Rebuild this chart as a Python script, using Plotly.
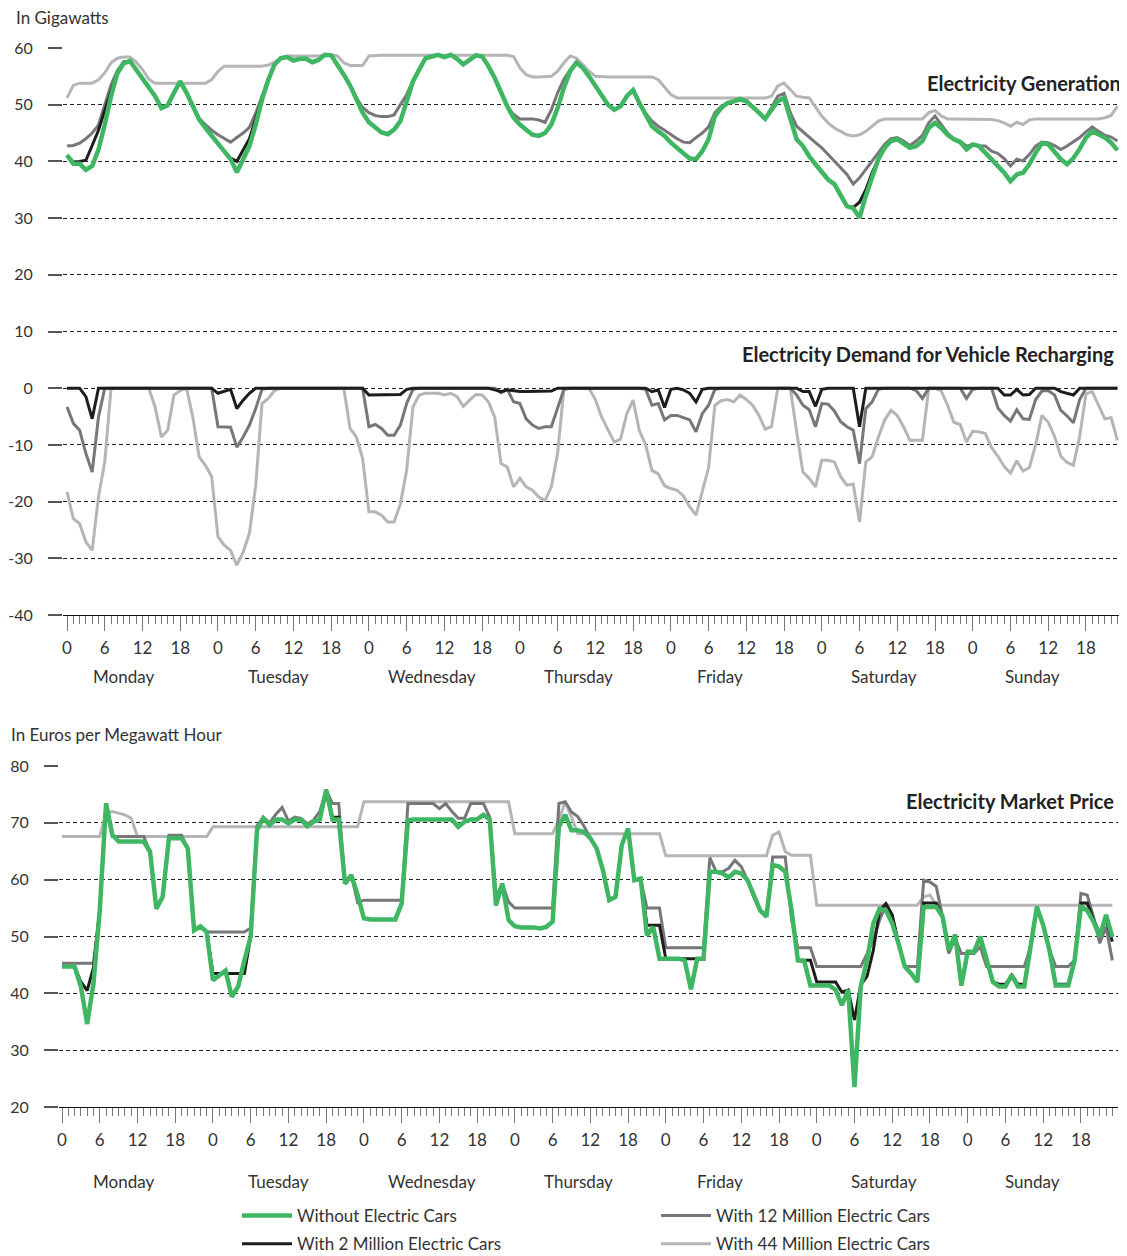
import plotly.graph_objects as go

HOURS = list(range(168))
DAYS = ["Monday", "Tuesday", "Wednesday", "Thursday", "Friday", "Saturday", "Sunday"]
HOUR_TICKS = [d * 24 + h for d in range(7) for h in (0, 6, 12, 18)]
HOUR_TEXT = ["0", "6", "12", "18"] * 7
SERIES = ["Without Electric Cars", "With 2 Million Electric Cars",
          "With 12 Million Electric Cars", "With 44 Million Electric Cars"]

# ---------------- Electricity generation (GW) ----------------
gen_without = [
    41.1, 39.6, 39.6, 38.5, 39.2, 42.1, 46.5, 51.5, 55.5, 57.3, 57.7, 56.2,
    54.7, 53.1, 51.5, 49.4, 49.9, 52.1, 54.1, 52.1, 49.7, 47.4, 45.9, 44.5,
    43.0, 41.8, 40.4, 38.1, 40.4, 42.7, 46.5, 50.9, 54.4, 57.1, 58.2, 58.4,
    57.8, 58.1, 58.1, 57.5, 57.9, 58.8, 58.7, 57.1, 55.3, 53.4, 51.2, 48.6,
    46.9, 45.9, 45.1, 44.8, 45.6, 47.1, 50.9, 54.1, 56.2, 58.2, 58.5, 58.8,
    58.4, 58.8, 58.1, 57.1, 57.9, 58.7, 58.5, 56.8, 54.7, 52.1, 49.7, 47.7,
    46.5, 45.6, 44.7, 44.5, 45.0, 46.5, 49.4, 53.0, 55.9, 57.4, 56.5, 55.0,
    53.3, 51.5, 50.0, 49.1, 49.7, 51.5, 52.6, 50.3, 48.3, 46.2, 45.3, 44.5,
    43.3, 42.4, 41.5, 40.5, 40.4, 41.8, 43.9, 48.0, 49.4, 50.3, 50.6, 51.0,
    50.6, 49.7, 48.6, 47.5, 49.1, 50.6, 51.2, 47.4, 43.9, 42.7, 40.9, 39.5,
    38.0, 36.8, 36.0, 33.9, 32.1, 31.7, 30.1, 33.9, 37.4, 40.4, 42.4, 43.6,
    43.9, 43.2, 42.4, 42.7, 43.6, 45.9, 46.8, 45.9, 44.7, 43.9, 43.4, 42.1,
    43.0, 42.7, 41.5, 40.4, 39.2, 38.0, 36.5, 37.7, 38.0, 39.5, 41.5, 43.2,
    43.0, 41.8, 40.4, 39.5, 40.6, 42.2, 44.2, 45.3, 44.7, 44.2, 43.3, 42.0,
]
gen_2m = [
    41.1, 39.9, 40.0, 40.2, 42.8, 45.5, 49.0, 52.3, 55.6, 57.3, 57.7, 56.2,
    54.7, 53.1, 51.5, 49.4, 49.9, 52.1, 54.1, 52.1, 49.7, 47.4, 45.9, 44.5,
    43.0, 41.8, 40.6, 40.0, 42.0, 44.0, 47.5, 51.2, 54.4, 57.1, 58.2, 58.4,
    57.8, 58.1, 58.1, 57.5, 57.9, 58.8, 58.7, 57.1, 55.3, 53.4, 51.2, 48.6,
    46.9, 45.9, 45.1, 44.8, 45.6, 47.1, 50.9, 54.1, 56.2, 58.2, 58.5, 58.8,
    58.4, 58.8, 58.1, 57.1, 57.9, 58.7, 58.5, 56.8, 54.7, 52.1, 49.7, 47.7,
    46.5, 45.6, 44.7, 44.5, 45.0, 46.5, 49.4, 53.0, 55.9, 57.4, 56.5, 55.0,
    53.3, 51.5, 50.0, 49.1, 49.7, 51.5, 52.6, 50.3, 48.3, 46.2, 45.3, 44.5,
    43.3, 42.4, 41.5, 40.5, 40.4, 41.8, 43.9, 48.0, 49.4, 50.3, 50.6, 51.0,
    50.6, 49.7, 48.6, 47.5, 49.1, 50.6, 51.2, 47.4, 43.9, 42.7, 40.9, 39.5,
    38.0, 36.8, 36.0, 33.9, 32.1, 31.9, 32.8, 35.0, 38.0, 40.4, 42.4, 43.6,
    43.9, 43.2, 42.4, 42.7, 43.6, 45.9, 46.8, 45.9, 44.7, 43.9, 43.4, 42.1,
    43.0, 42.7, 41.5, 40.4, 39.2, 38.0, 36.5, 37.7, 38.0, 39.5, 41.5, 43.2,
    43.0, 41.8, 40.4, 39.5, 40.6, 42.2, 44.2, 45.3, 44.7, 44.2, 43.3, 42.0,
]
gen_12m = [
    42.7, 42.8, 43.2, 44.0, 45.0, 46.4, 50.0, 53.5, 56.0, 57.6, 57.7, 56.2,
    54.7, 53.1, 51.5, 49.4, 49.9, 52.1, 54.1, 52.1, 49.7, 47.6, 46.5, 45.5,
    44.7, 44.0, 43.4, 44.2, 45.0, 46.0, 48.5, 51.5, 54.5, 57.1, 58.2, 58.4,
    57.8, 58.1, 58.1, 57.5, 57.9, 58.8, 58.7, 57.1, 55.3, 53.4, 51.2, 49.5,
    48.6, 48.1, 47.9, 47.9, 48.2, 50.0, 51.8, 54.3, 56.2, 58.2, 58.5, 58.8,
    58.4, 58.8, 58.1, 57.1, 57.9, 58.7, 58.5, 56.8, 54.7, 52.1, 49.7, 48.3,
    47.5, 47.5, 47.5, 47.3, 46.9, 49.1, 52.1, 54.5, 56.2, 57.6, 56.5, 55.0,
    53.3, 51.5, 50.0, 49.1, 49.7, 51.5, 52.6, 50.3, 48.5, 47.1, 46.2, 45.5,
    44.7, 44.0, 43.4, 43.3, 44.2, 45.0, 46.1, 48.6, 49.7, 50.3, 50.6, 51.0,
    50.6, 49.7, 48.6, 47.6, 49.5, 51.5, 52.0, 48.6, 46.2, 45.2, 44.2, 43.3,
    42.4, 41.2, 40.1, 38.9, 37.7, 36.0, 37.1, 38.6, 40.1, 41.5, 43.0, 44.0,
    44.2, 43.6, 42.8, 43.6, 44.6, 46.8, 48.0, 46.5, 45.0, 44.0, 43.6, 42.7,
    43.0, 42.7, 42.7, 41.8, 41.4, 40.5, 39.2, 40.4, 40.1, 41.2, 42.7, 43.4,
    43.3, 42.8, 42.1, 42.7, 43.4, 44.2, 45.2, 46.1, 45.3, 44.6, 44.3, 43.6,
]
gen_44m = [
    51.2, 53.4, 53.8, 53.8, 53.8, 54.4, 55.6, 57.4, 58.2, 58.4, 58.4, 57.5,
    56.2, 54.5, 53.8, 53.8, 53.8, 53.8, 53.8, 53.8, 53.8, 53.8, 53.8, 54.4,
    55.9, 56.8, 56.8, 56.8, 56.8, 56.8, 56.8, 56.8, 57.0, 57.5, 58.3, 58.6,
    58.6, 58.6, 58.6, 58.6, 58.6, 58.8, 58.8, 58.6, 57.4, 56.9, 56.9, 56.9,
    58.6, 58.7, 58.7, 58.7, 58.7, 58.7, 58.7, 58.7, 58.7, 58.7, 58.7, 58.7,
    58.7, 58.7, 58.7, 58.7, 58.7, 58.7, 58.7, 58.7, 58.7, 58.7, 58.7, 58.5,
    56.5, 55.3, 54.9, 54.9, 54.9, 55.0, 55.9, 57.4, 58.6, 58.2, 57.1, 55.9,
    55.0, 54.9, 54.9, 54.9, 54.9, 54.9, 54.9, 54.9, 54.9, 54.9, 54.4, 53.1,
    51.8, 51.2, 51.2, 51.2, 51.2, 51.2, 51.2, 51.2, 51.2, 51.2, 51.2, 51.2,
    51.2, 51.2, 51.2, 51.2, 51.5, 53.3, 53.8, 52.7, 51.5, 51.3, 51.2, 49.6,
    48.0, 46.8, 45.9, 45.3, 44.7, 44.5, 44.7, 45.3, 46.2, 47.1, 47.5, 47.5,
    47.5, 47.5, 47.5, 47.5, 47.5, 48.6, 49.0, 48.0, 47.5, 47.5, 47.5, 47.5,
    47.5, 47.5, 47.5, 47.4, 47.2, 46.8, 46.2, 46.9, 46.5, 47.3, 47.5, 47.5,
    47.5, 47.5, 47.5, 47.5, 47.5, 47.5, 47.5, 47.5, 47.5, 47.7, 48.1, 49.7,
]

# ---------------- Demand for vehicle recharging (GW, negative) ----------------
dem_2m = [
    0, 0, 0, -1.5, -5.4, 0, 0, 0, 0, 0, 0, 0,
    0, 0, 0, 0, 0, 0, 0, 0, 0, 0, 0, 0,
    -0.9, -0.6, -0.2, -3.6, -2.1, -0.9, 0, 0, 0, 0, 0, 0,
    0, 0, 0, 0, 0, 0, 0, 0, 0, 0, 0, 0,
    -1.2, -1.2, -1.2, -1.2, -1.2, -1.1, -0.2, 0, 0, 0, 0, 0,
    0, 0, 0, 0, 0, 0, 0, 0, -0.3, -0.6, -0.3, -0.5,
    -0.6, -0.6, -0.6, -0.6, -0.6, -0.5, 0, 0, 0, 0, 0, 0,
    0, 0, 0, 0, 0, 0, 0, 0, 0, -0.6, -0.3, -3.4,
    -0.2, 0, -0.3, -0.9, -2.4, -0.2, 0, 0, 0, 0, 0, 0,
    0, 0, 0, 0, 0, 0, 0, 0, 0, -0.6, -0.6, -3.2,
    -0.2, 0, 0, 0, 0, 0, -6.8, 0, 0, 0, 0, 0,
    0, 0, 0, 0, 0, 0, 0, 0, 0, 0, 0, 0,
    0, 0, 0, 0, 0, -1.2, -1.2, -0.2, -1.2, -1.1, 0, 0,
    0, 0, -0.6, -0.9, -1.2, 0, 0, 0, 0, 0, 0, 0,
]
dem_12m = [
    -3.3, -6.2, -7.4, -11.5, -14.8, -5.1, 0, 0, 0, 0, 0, 0,
    0, 0, 0, 0, 0, 0, 0, 0, 0, 0, 0, 0,
    -6.8, -6.9, -6.9, -10.4, -8.6, -6.5, -3.6, -0.2, 0, 0, 0, 0,
    0, 0, 0, 0, 0, 0, 0, 0, 0, 0, 0, 0,
    -6.8, -6.4, -7.1, -8.3, -8.3, -6.5, -2.7, -0.2, 0, 0, 0, 0,
    0, 0, 0, 0, 0, 0, 0, 0, 0, -0.8, -0.2, -2.4,
    -2.7, -5.4, -6.5, -7.1, -6.8, -6.8, -3.3, -0.2, 0, 0, 0, 0,
    0, 0, 0, 0, 0, 0, 0, 0, -0.2, -3.0, -2.7, -5.6,
    -4.8, -4.8, -5.2, -5.6, -7.7, -4.5, -3.0, -0.2, 0, 0, 0, 0,
    0, 0, 0, 0, 0, 0, 0, 0, -1.2, -3.0, -3.8, -6.8,
    -2.7, -2.8, -4.0, -5.9, -6.8, -7.4, -13.3, -3.6, -2.4, -0.2, 0, 0,
    0, 0, 0, -0.4, -1.8, 0, 0, 0, 0, 0, 0, -1.8,
    -0.2, 0, 0, 0, -3.5, -4.8, -5.8, -3.8, -5.4, -5.5, -2.0, -0.5,
    -0.4, -1.2, -3.9, -4.9, -6.1, -2.0, 0, 0, 0, 0, 0, 0,
]
dem_44m = [
    -18.3, -23.0, -23.9, -27.1, -28.6, -19.2, -13.0, 0, 0, 0, 0, 0,
    0, 0, -3.3, -8.6, -7.4, -1.2, -0.4, 0, -5.1, -12.1, -13.6, -15.6,
    -26.2, -27.7, -28.6, -31.2, -28.9, -25.6, -17.1, -2.7, -1.8, -0.4, 0, 0,
    0, 0, 0, 0, 0, 0, 0, 0, 0, -7.1, -8.6, -12.4,
    -21.8, -21.8, -22.4, -23.6, -23.6, -20.4, -14.5, -3.3, -1.2, -0.9, -0.9, -0.9,
    -1.2, -0.9, -1.5, -3.2, -2.1, -1.1, -1.2, -2.4, -5.1, -13.3, -13.9, -17.4,
    -15.9, -17.4, -18.0, -19.2, -19.8, -17.4, -11.5, 0, 0, 0, 0, 0,
    -2.0, -5.1, -7.3, -9.5, -9.0, -4.5, -2.1, -7.5, -10.0, -14.5, -15.1, -17.2,
    -17.7, -18.0, -19.0, -20.9, -22.4, -18.0, -14.0, -3.0, -2.2, -2.0, -2.4, -1.2,
    -2.0, -3.0, -4.8, -7.2, -6.8, 0, 0, 0, -7.7, -14.8, -15.9, -17.4,
    -12.7, -12.7, -13.0, -15.6, -17.1, -16.9, -23.6, -13.0, -12.1, -8.6, -5.6, -3.9,
    -4.8, -6.8, -9.2, -9.2, -9.2, 0, 0, -0.5, -3.0, -6.0, -6.4, -9.5,
    -7.6, -7.7, -8.0, -10.5, -12.0, -13.8, -15.0, -12.8, -14.6, -14.0, -10.0, -4.8,
    -6.0, -8.5, -12.0, -13.1, -13.6, -8.5, -1.0, -0.6, -3.0, -5.4, -5.2, -9.2,
]

# ---------------- Electricity market price (EUR/MWh) ----------------
price_without = [
    44.7, 44.7, 44.7, 41.2, 34.6, 41.7, 54.6, 73.4, 67.9, 66.7, 66.7, 66.7,
    66.7, 66.7, 64.9, 54.9, 57.0, 67.3, 67.3, 67.3, 65.5, 51.1, 51.8, 50.8,
    42.3, 43.2, 44.0, 39.4, 41.2, 45.8, 50.0, 68.7, 70.8, 69.6, 70.6, 70.6,
    69.9, 70.6, 70.6, 69.4, 70.2, 70.6, 75.8, 70.6, 70.6, 59.3, 60.8, 57.3,
    53.2, 53.0, 53.0, 53.0, 53.0, 53.0, 55.8, 70.5, 70.6, 70.6, 70.6, 70.6,
    70.6, 70.6, 70.6, 69.3, 70.2, 70.6, 70.6, 71.4, 70.6, 55.5, 59.3, 52.9,
    51.8, 51.6, 51.6, 51.6, 51.4, 51.7, 52.6, 69.3, 71.4, 68.7, 68.7, 68.4,
    67.3, 65.5, 61.7, 56.4, 57.0, 66.1, 69.0, 59.9, 60.2, 50.2, 51.7, 46.1,
    46.1, 46.1, 46.1, 45.8, 40.7, 46.1, 46.1, 61.4, 61.4, 61.1, 60.4, 61.4,
    61.1, 59.9, 57.0, 54.6, 53.5, 62.6, 62.3, 61.4, 54.6, 45.8, 45.7, 41.4,
    41.4, 41.4, 41.4, 40.6, 37.9, 40.6, 23.5, 41.2, 45.8, 52.3, 54.9, 54.6,
    52.3, 48.8, 44.7, 43.5, 42.0, 55.2, 55.2, 55.2, 53.5, 47.6, 50.3, 41.4,
    47.3, 47.3, 50.0, 45.8, 42.0, 41.2, 41.2, 43.2, 41.2, 41.2, 48.2, 55.2,
    52.0, 47.6, 41.4, 41.4, 41.4, 45.8, 55.2, 54.6, 52.6, 50.0, 53.8, 49.9,
]
price_2m = [
    44.7, 44.7, 44.7, 42.0, 40.5, 44.5, 54.6, 73.4, 67.9, 66.7, 66.7, 66.7,
    66.7, 66.7, 64.9, 54.9, 57.0, 67.3, 67.3, 67.3, 65.5, 51.1, 51.8, 50.8,
    43.5, 43.5, 43.5, 43.5, 43.5, 43.5, 50.0, 68.7, 70.8, 69.6, 70.6, 70.6,
    69.9, 70.6, 70.6, 69.4, 70.2, 70.6, 75.8, 71.0, 71.0, 59.3, 60.8, 57.3,
    53.2, 53.0, 53.0, 53.0, 53.0, 53.0, 55.8, 70.5, 70.6, 70.6, 70.6, 70.6,
    70.6, 70.6, 70.6, 69.3, 70.2, 70.6, 70.6, 71.4, 70.6, 55.5, 59.3, 52.9,
    51.8, 51.6, 51.6, 51.6, 51.4, 51.7, 52.6, 69.3, 71.4, 68.7, 68.7, 68.4,
    67.3, 65.5, 61.7, 56.4, 57.0, 66.1, 69.0, 59.9, 60.2, 52.0, 52.0, 52.0,
    46.1, 46.1, 46.1, 46.0, 46.0, 46.0, 46.1, 61.4, 61.4, 61.1, 60.4, 61.4,
    61.1, 59.9, 57.0, 54.6, 53.5, 62.6, 62.3, 61.4, 54.6, 45.8, 45.8, 45.8,
    42.0, 42.0, 42.0, 42.0, 40.2, 40.6, 35.3, 41.5, 43.0, 47.6, 54.6, 55.8,
    53.8, 48.8, 44.7, 43.5, 42.0, 55.9, 55.9, 55.9, 53.5, 47.6, 50.3, 41.4,
    47.3, 47.3, 50.0, 45.8, 42.0, 41.6, 41.6, 43.2, 41.6, 41.6, 48.2, 55.2,
    52.0, 47.6, 41.6, 41.6, 41.6, 45.8, 55.9, 55.9, 53.0, 50.5, 53.0, 49.1,
]
price_12m = [
    45.3, 45.3, 45.3, 45.3, 45.3, 45.3, 54.6, 73.4, 67.6, 67.6, 67.6, 67.6,
    67.6, 67.6, 64.9, 54.9, 57.0, 67.8, 67.8, 67.8, 65.5, 51.1, 51.8, 50.8,
    50.8, 50.8, 50.8, 50.8, 50.8, 50.8, 51.5, 69.5, 71.0, 70.0, 71.5, 72.7,
    70.3, 71.0, 70.8, 69.8, 70.5, 72.0, 75.8, 73.4, 73.4, 59.3, 60.8, 56.0,
    56.4, 56.4, 56.4, 56.4, 56.4, 56.4, 56.4, 73.4, 73.4, 73.4, 73.4, 73.4,
    72.5, 73.4, 72.0, 70.8, 70.8, 73.4, 73.4, 73.4, 71.0, 57.0, 59.3, 56.1,
    55.0, 55.0, 55.0, 55.0, 55.0, 55.0, 55.0, 73.4, 73.7, 71.9, 71.1, 69.4,
    67.3, 65.5, 61.7, 56.4, 57.0, 66.1, 69.0, 59.9, 60.2, 55.0, 55.0, 55.0,
    48.0, 48.0, 48.0, 48.0, 48.0, 48.0, 48.0, 63.9, 61.4, 61.4, 62.0, 63.4,
    62.3, 59.9, 57.0, 54.6, 53.5, 64.0, 64.0, 64.0, 52.9, 48.0, 48.0, 48.0,
    44.7, 44.7, 44.7, 44.7, 44.7, 44.7, 44.7, 44.7, 47.0, 49.4, 52.9, 55.5,
    53.5, 48.8, 44.7, 44.7, 44.7, 59.9, 59.6, 58.8, 53.5, 47.0, 49.7, 47.0,
    47.0, 47.0, 48.2, 44.7, 44.7, 44.7, 44.7, 44.7, 44.7, 44.7, 48.2, 55.2,
    52.0, 47.6, 44.7, 44.7, 44.7, 45.8, 57.6, 57.3, 53.5, 48.8, 51.7, 45.8,
]
price_44m = [
    67.6, 67.6, 67.6, 67.6, 67.6, 67.6, 67.6, 71.7, 72.0, 71.7, 71.4, 70.8,
    67.6, 67.6, 67.6, 67.6, 67.6, 67.6, 67.6, 67.6, 67.6, 67.6, 67.6, 67.6,
    69.3, 69.3, 69.3, 69.3, 69.3, 69.3, 69.3, 69.3, 69.3, 69.3, 69.3, 69.3,
    69.3, 69.3, 69.3, 69.3, 69.3, 69.3, 69.3, 69.3, 69.3, 69.3, 69.3, 69.3,
    73.7, 73.7, 73.7, 73.7, 73.7, 73.7, 73.7, 73.7, 73.7, 73.7, 73.7, 73.7,
    73.7, 73.7, 73.7, 73.7, 73.7, 73.7, 73.7, 73.7, 73.7, 73.7, 73.7, 73.7,
    68.1, 68.1, 68.1, 68.1, 68.1, 68.1, 68.1, 70.5, 73.7, 71.0, 68.1, 68.1,
    68.1, 68.1, 68.1, 68.1, 68.1, 68.1, 68.1, 68.1, 68.1, 68.1, 68.1, 68.1,
    64.2, 64.2, 64.2, 64.2, 64.2, 64.2, 64.2, 64.2, 64.2, 64.2, 64.2, 64.2,
    64.2, 64.2, 64.2, 64.2, 64.2, 67.8, 68.4, 64.9, 64.3, 64.3, 64.3, 64.3,
    55.5, 55.5, 55.5, 55.5, 55.5, 55.5, 55.5, 55.5, 55.5, 55.5, 55.5, 55.5,
    55.5, 55.5, 55.5, 55.5, 55.5, 57.0, 57.3, 55.5, 55.5, 55.5, 55.5, 55.5,
    55.5, 55.5, 55.5, 55.5, 55.5, 55.5, 55.5, 55.5, 55.5, 55.5, 55.5, 55.5,
    55.5, 55.5, 55.5, 55.5, 55.5, 55.5, 55.5, 55.5, 55.5, 55.5, 55.5, 55.5,
]

for arr in (gen_without, gen_2m, gen_12m, gen_44m, dem_2m, dem_12m, dem_44m,
            price_without, price_2m, price_12m, price_44m):
    assert len(arr) == 168, len(arr)

# ---------------- styling ----------------
# The page body has an 8px default margin, so the figure is drawn at (8, 8).
OFF = 8
W, H = 1127 - OFF, 1256 - OFF
FONT = "Lato, 'Open Sans', sans-serif"
TXT = "#333333"
GREEN = "#3fb762"
BLACK = "#1d1d1b"
DGRAY = "#77777b"
LGRAY = "#b5b5b7"
COLORS = [GREEN, BLACK, DGRAY, LGRAY]
WIDTHS = [4.5, 3, 3, 3]


def px_x(p):
    return (p - OFF) / W


def px_y(p):
    return 1 - (p - OFF) / H


fig = go.Figure()

# draw order: light gray under, green on top
order = [3, 2, 1, 0]
gen = [gen_without, gen_2m, gen_12m, gen_44m]
dem = [None, dem_2m, dem_12m, dem_44m]
price = [price_without, price_2m, price_12m, price_44m]

for i in order:
    fig.add_trace(go.Scatter(x=HOURS, y=gen[i], mode="lines", xaxis="x", yaxis="y",
                             line=dict(color=COLORS[i], width=WIDTHS[i]),
                             showlegend=False, hoverinfo="skip"))
for i in order:
    if dem[i] is None:
        continue
    fig.add_trace(go.Scatter(x=HOURS, y=dem[i], mode="lines", xaxis="x", yaxis="y",
                             line=dict(color=COLORS[i], width=WIDTHS[i]),
                             showlegend=False, hoverinfo="skip"))
for i in order:
    fig.add_trace(go.Scatter(x=HOURS, y=price[i], mode="lines", xaxis="x2", yaxis="y2",
                             name=SERIES[i], legendrank=i + 1,
                             legend="legend" if i in (0, 1) else "legend2",
                             legendgroup=SERIES[i],
                             line=dict(color=COLORS[i], width=WIDTHS[i]),
                             showlegend=True, hoverinfo="skip"))

xtickfont = dict(family=FONT, size=17, color=TXT)
ytickfont = dict(family=FONT, size=16, color=TXT)

xcommon = dict(
    tickmode="array", tickvals=HOUR_TICKS, ticktext=HOUR_TEXT,
    ticks="outside", ticklen=15, tickwidth=1, tickcolor="#777777",
    showline=True, linecolor="#111111", linewidth=1, automargin=False,
    showgrid=False, zeroline=False, tickfont=xtickfont, ticklabelstandoff=3,
    minor=dict(tickmode="linear", tick0=0, dtick=1, ticks="outside", ticklen=8,
               tickwidth=1, tickcolor="#777777", showgrid=False),
)
ycommon = dict(
    ticks="outside", ticklen=14, tickwidth=1.5, tickcolor="#555555", automargin=False,
    showgrid=True, gridcolor="#222222", gridwidth=1, griddash="4px,3px",
    zeroline=False, showline=False, tickfont=ytickfont, ticklabelstandoff=12,
)

fig.update_layout(
    width=W, height=H, margin=dict(l=0, r=0, t=0, b=0, pad=0, autoexpand=False),
    paper_bgcolor="white", plot_bgcolor="white",
    font=dict(family=FONT, color=TXT),
    xaxis=dict(domain=[px_x(63), px_x(1122)], range=[-0.64, 167.73], anchor="y", **xcommon),
    yaxis=dict(domain=[px_y(615), px_y(48)], range=[-40, 60], anchor="x",
               tickvals=[-40, -30, -20, -10, 0, 10, 20, 30, 40, 50, 60],
               ticktext=["-40", "-30", "-20", "-10", "0", "10", "20", "30", "40", "50", "60"],
               **ycommon),
    xaxis2=dict(domain=[px_x(59), px_x(1118)], range=[-0.48, 167.9], anchor="y2", **xcommon),
    yaxis2=dict(domain=[px_y(1107), px_y(766)], range=[20, 80], anchor="x2",
                tickvals=[20, 30, 40, 50, 60, 70, 80],
                ticktext=["20", "30", "40", "50", "60", "70", "80"],
                **ycommon),
    legend=dict(x=px_x(237), y=px_y(1198), xanchor="left", yanchor="top",
                orientation="v", traceorder="grouped", tracegroupgap=3,
                font=dict(family=FONT, size=17, color=TXT), bgcolor="rgba(0,0,0,0)",
                itemwidth=50),
    legend2=dict(x=px_x(656), y=px_y(1198), xanchor="left", yanchor="top",
                 orientation="v", traceorder="grouped", tracegroupgap=3,
                 font=dict(family=FONT, size=17, color=TXT), bgcolor="rgba(0,0,0,0)",
                 itemwidth=50),
)

annotations = [
    dict(text="In Gigawatts", x=px_x(14), y=px_y(18), xanchor="left", yanchor="middle",
         font=dict(family=FONT, size=17, color=TXT)),
    dict(text="In Euros per Megawatt Hour", x=px_x(9), y=px_y(734), xanchor="left",
         yanchor="middle", font=dict(family=FONT, size=17, color=TXT)),
    dict(text="<b>Electricity Generation</b>", x=px_x(1123), y=px_y(83), xanchor="right",
         yanchor="middle", font=dict(family=FONT, size=20, color="#222222")),
    dict(text="<b>Electricity Demand for Vehicle Recharging</b>", x=px_x(1116), y=px_y(354),
         xanchor="right", yanchor="middle", font=dict(family=FONT, size=20, color="#222222")),
    dict(text="<b>Electricity Market Price</b>", x=px_x(1116), y=px_y(801), xanchor="right",
         yanchor="middle", font=dict(family=FONT, size=20, color="#222222")),
]
DAY_PX = [123, 278, 432, 578, 720, 884, 1032]
for d, p in zip(DAYS, DAY_PX):
    annotations.append(dict(text=d, x=px_x(p), y=px_y(676), xanchor="center", yanchor="middle",
                            font=dict(family=FONT, size=17, color=TXT)))
    annotations.append(dict(text=d, x=px_x(p), y=px_y(1181), xanchor="center", yanchor="middle",
                            font=dict(family=FONT, size=17, color=TXT)))
for a in annotations:
    a.update(xref="paper", yref="paper", showarrow=False)
fig.update_layout(annotations=annotations)

fig.write_html("out.html")
